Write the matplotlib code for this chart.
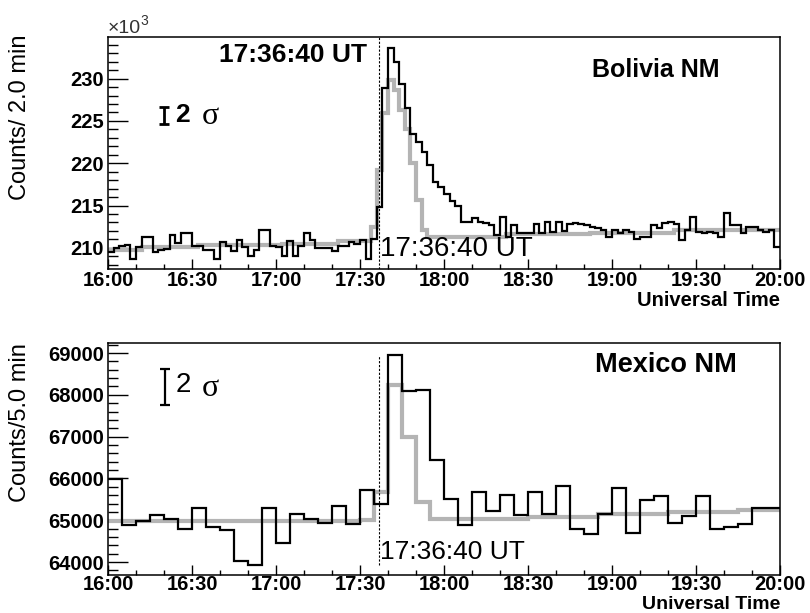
import matplotlib
matplotlib.use('Agg')
import matplotlib.pyplot as plt
import numpy as np
from matplotlib.ticker import MultipleLocator, FixedLocator, FuncFormatter

plt.rcParams['font.family'] = ['Liberation Sans', 'DejaVu Sans']
plt.rcParams['font.weight'] = 'bold'

# Bolivia NM, 2-min bins from 16:00 UT (counts x 10^3)
bolivia_obs = [
    209.5, 210.0, 210.2, 210.3, 208.7, 210.1, 211.3, 211.3, 209.5, 209.8,
    209.9, 211.5, 210.6, 211.8, 211.7, 210.2, 210.2, 209.8, 209.7, 208.7,
    210.7, 210.2, 209.6, 210.9, 210.1, 209.0, 209.8, 212.1, 212.1, 210.2,
    210.15, 209.0, 210.75, 209.0, 210.2, 211.7, 210.95, 210.0, 210.0, 210.0,
    209.6, 210.2, 210.2, 210.7, 210.4, 210.95, 208.7, 211.0, 214.8, 228.9,
    233.6, 232.0, 229.4, 226.5, 223.4, 222.5, 221.3, 219.8, 217.8, 217.2,
    216.4, 215.5, 214.9, 213.1, 213.1, 213.5, 213.1, 212.9, 212.7, 211.5,
    213.7, 211.3, 212.7, 211.7, 211.7, 211.7, 212.8, 211.7, 213.1, 211.9,
    213.1, 212.0, 212.8, 212.9, 212.8, 212.7, 212.5, 212.3, 212.1, 211.3,
    212.1, 211.7, 212.1, 211.9, 211.1, 211.3, 211.3, 212.7, 212.3, 212.9,
    213.1, 212.8, 210.95, 212.1, 213.7, 211.9, 211.7, 211.9, 211.7, 211.3,
    214.1, 212.7, 212.7, 211.7, 212.5, 212.5, 212.1, 211.9, 212.1, 210.15,
]
bolivia_model = [
    209.8, 209.8, 209.8, 209.8, 209.8, 209.8, 210.1, 210.1, 210.1, 210.1,
    210.1, 210.1, 210.1, 210.1, 210.1, 210.1, 210.3, 210.3, 210.3, 210.3,
    210.3, 210.3, 210.3, 210.3, 210.3, 210.3, 210.3, 210.3, 210.3, 210.3,
    210.3, 210.5, 210.5, 210.5, 210.5, 210.5, 210.5, 210.5, 210.5, 210.5,
    210.5, 210.8, 210.8, 210.8, 210.8, 210.8, 210.8, 212.5, 219.2, 225.9,
    229.8, 228.7, 226.3, 224.0, 220.0, 215.7, 212.1, 211.3, 211.3, 211.3,
    211.3, 211.3, 211.3, 211.3, 211.3, 211.3, 211.3, 211.3, 211.3, 211.3,
    211.3, 211.6, 211.6, 211.6, 211.6, 211.6, 211.6, 211.6, 211.6, 211.6,
    211.6, 211.6, 211.6, 211.6, 211.6, 211.6, 211.8, 211.8, 211.8, 211.8,
    211.8, 211.8, 211.8, 211.8, 211.8, 211.8, 211.8, 211.8, 211.8, 211.8,
    211.8, 212.1, 212.1, 212.1, 212.1, 212.1, 212.1, 212.1, 212.1, 212.1,
    212.1, 212.1, 212.1, 212.1, 212.1, 212.1, 212.1, 212.1, 212.1, 212.1,
]

# Mexico NM, 5-min bins from 16:00 UT
mexico_obs = [
    65980, 64880, 64980, 65120, 65020, 64800, 65290, 64840, 64760, 64020,
    63930, 65290, 64460, 65160, 65020, 64940, 65330, 64920, 65730, 65380,
    68950, 68080, 68120, 66440, 65520, 64880, 65680, 65220, 65600, 65120,
    65680, 65160, 65820, 64790, 64680, 65160, 65780, 64690, 65490, 65580,
    64940, 65100, 65580, 64790, 64830, 64920, 65290, 65290,
]
mexico_model = [
    64980, 64980, 64980, 64980, 64980, 64980, 64980, 64980, 64980, 64980,
    64990, 64990, 64990, 64990, 64990, 64990, 64990, 64990, 65000, 65680,
    68240, 67000, 65440, 65020, 65040, 65040, 65040, 65040, 65040, 65040,
    65080, 65080, 65080, 65080, 65080, 65150, 65150, 65150, 65150, 65150,
    65200, 65200, 65200, 65200, 65200, 65240, 65240, 65240,
]

onset = 96 + 40 / 60          # 17:36:40 UT, minutes after 16:00
bin_bolivia = 2.0
bin_mexico = 5.0

c_obs = 'black'
c_model = '#b4b4b4'


def hhmm(x, pos):
    m = int(round(x)) + 16 * 60
    return f'{m // 60}:{m % 60:02d}'


fig = plt.figure(figsize=(8.1, 6.13), dpi=100)
ax1 = fig.add_axes([108 / 810, 1 - 269 / 613, 672 / 810, 232.3 / 613])
ax2 = fig.add_axes([108 / 810, 1 - 575 / 613, 672 / 810, 232.0 / 613])

edges_b = np.arange(len(bolivia_obs) + 1) * bin_bolivia
edges_m = np.arange(len(mexico_obs) + 1) * bin_mexico

ax1.stairs(bolivia_model, edges_b, baseline=None, color=c_model, lw=3.0, zorder=2)
ax1.stairs(bolivia_obs, edges_b, baseline=None, color=c_obs, lw=1.6, zorder=3)
ax2.stairs(mexico_model, edges_m, baseline=None, color=c_model, lw=3.0, zorder=2)
ax2.stairs(mexico_obs, edges_m, baseline=None, color=c_obs, lw=1.6, zorder=3)

ax1.set_ylim(207.5, 234.95)
ax1.yaxis.set_major_locator(FixedLocator([210, 215, 220, 225, 230]))
ax1.yaxis.set_minor_locator(MultipleLocator(1))
ax1.yaxis.set_major_formatter(FuncFormatter(lambda v, p: f'{v:.0f}'))

ax2.set_ylim(63690, 69240)
ax2.yaxis.set_major_locator(MultipleLocator(1000))
ax2.yaxis.set_minor_locator(MultipleLocator(200))
ax2.yaxis.set_major_formatter(FuncFormatter(lambda v, p: f'{v:.0f}'))

# (tick label pad, title baseline in axes fraction, title size)
xaxis_style = {ax1: (1.2, -0.159, 14.5), ax2: (0.3, -0.1448, 14)}

for ax in (ax1, ax2):
    pad, title_y, title_size = xaxis_style[ax]
    ax.set_xlim(0, 240)
    ax.xaxis.set_major_locator(MultipleLocator(30))
    ax.xaxis.set_minor_locator(MultipleLocator(10))
    ax.xaxis.set_major_formatter(FuncFormatter(hhmm))
    ax.tick_params(which='both', direction='in', top=False, right=False, width=1.0)
    ax.tick_params(axis='x', which='major', length=7, pad=pad, labelsize=14.5)
    ax.tick_params(axis='x', which='minor', length=3.5)
    ax.tick_params(axis='y', which='major', length=14.4, pad=3, labelsize=14.5)
    ax.tick_params(axis='y', which='minor', length=7.2)
    for s in ax.spines.values():
        s.set_linewidth(1.1)
    ax.text(1.0, title_y, 'Universal Time', transform=ax.transAxes,
            ha='right', va='baseline', fontsize=title_size)

# onset marker
ax1.axvline(onset, color='k', lw=0.8, ls=(0, (2, 1.5)), zorder=4)
ax2.axvline(onset, ymin=0.043, ymax=0.948, color='k', lw=0.8, ls=(0, (2, 1.5)), zorder=4)

ax1.text(onset - 4, 232.8, '17:36:40 UT', ha='right', va='center', fontsize=19)
ax1.text(onset + 0.3, 209.9, '17:36:40 UT', ha='left', va='center',
         fontsize=20, weight='normal', zorder=5)
ax2.text(onset + 0.3, 64240, '17:36:40 UT', ha='left', va='center',
         fontsize=19, weight='normal', zorder=5)

ax1.text(0.720, 0.857, 'Bolivia NM', transform=ax1.transAxes,
         ha='left', va='center', fontsize=18)
ax2.text(0.725, 0.905, 'Mexico NM', transform=ax2.transAxes,
         ha='left', va='center', fontsize=19.5)

# 2 sigma scale bars
ax1.errorbar([20.0], [225.68], yerr=[1.0], color='k', lw=2, capsize=3.6, capthick=2)
ax1.text(24.0, 225.74, '2', ha='left', va='center', fontsize=19)
ax1.text(33.6, 225.5, 'σ', ha='left', va='center', fontsize=23,
         family='Liberation Serif', weight='normal')
ax2.errorbar([20.4], [68190], yerr=[430], color='k', lw=1.6, capsize=3.6, capthick=1.6)
ax2.text(24.3, 68234, '2', ha='left', va='center', fontsize=20, weight='normal')
ax2.text(33.6, 68150, 'σ', ha='left', va='center', fontsize=23,
         family='Liberation Serif', weight='normal')

# axis titles and the x10^3 multiplier
fig.text(20 / 810, 1 - 35 / 613, 'Counts/ 2.0 min', rotation=90,
         ha='center', va='top', fontsize=17, weight='normal')
fig.text(20 / 810, 1 - 343 / 613, 'Counts/5.0 min', rotation=90,
         ha='center', va='top', fontsize=17, weight='normal')
fig.text(108 / 810, 1 - 33 / 613, '×10', ha='left', va='baseline',
         fontsize=14, weight='normal', color='#333333')
fig.text(140 / 810, 1 - 25 / 613, '3', ha='left', va='baseline',
         fontsize=10, weight='normal', color='#333333')

plt.savefig('out.png', dpi=100)
